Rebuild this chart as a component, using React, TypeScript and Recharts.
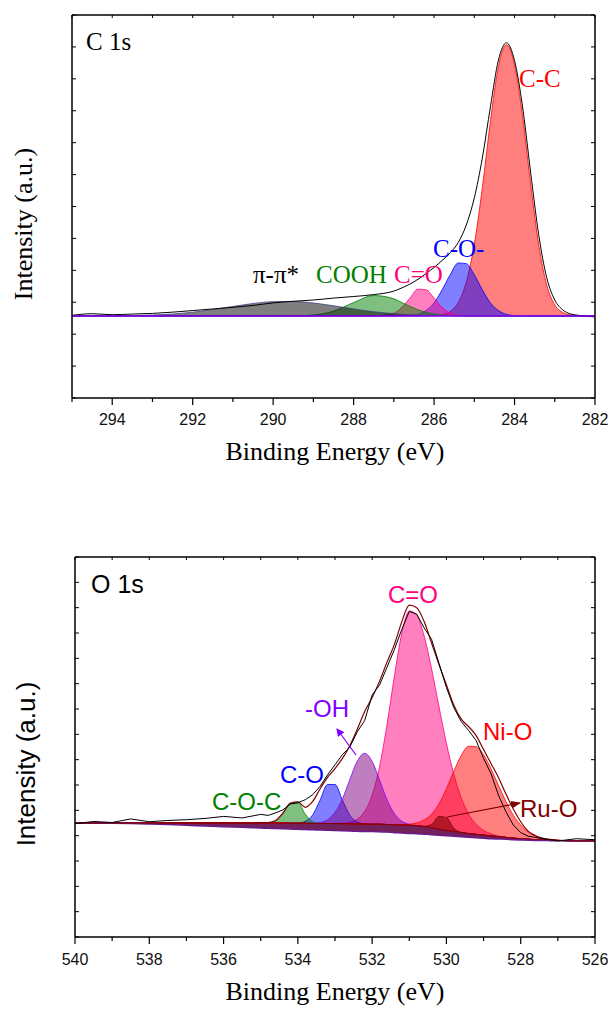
import React from "react";
import { ComposedChart, Area, Line, XAxis, YAxis, ReferenceLine } from "recharts";

const SANS = "'Liberation Sans', Arial, sans-serif";
const SERIF = "'Liberation Serif', 'Times New Roman', serif";

// ---- C 1s (heights above the flat background) ----
const c1sEnergy = [295, 294.5, 294, 293.5, 293, 292.5, 292, 291.5, 291, 290.5, 290, 289.5, 289, 288.5, 288, 287.5,
  287, 286.8, 286.6, 286.4, 286.2, 286, 285.8, 285.6, 285.4, 285.2, 285, 284.8, 284.6, 284.4, 284.2, 284, 283.8,
  283.6, 283.4, 283.2, 283, 282.8, 282.6, 282.4, 282.2, 282];
const c1sPiPi = [0, 0, 0.004, 0.012, 0.029, 0.062, 0.119, 0.201, 0.299, 0.39, 0.449, 0.455, 0.406, 0.319, 0.22, 0.134,
  0.072, 0.054, 0.04, 0.029, 0.02, 0.014, 0.01, 0.006, 0.004, 0.002, 0.001, 0, 0, 0, 0, 0, 0, 0, 0, 0, 0, 0, 0, 0, 0, 0];
const c1sCOOH = [0, 0, 0, 0, 0, 0, 0, 0, 0, 0, 0, 0.003, 0.03, 0.15, 0.42, 0.64,
  0.54, 0.42, 0.3, 0.195, 0.115, 0.061, 0.03, 0.013, 0.005, 0.002, 0, 0, 0, 0, 0, 0, 0, 0, 0, 0, 0, 0, 0, 0, 0, 0];
const c1sCdO = [0, 0, 0, 0, 0, 0, 0, 0, 0, 0, 0, 0, 0, 0, 0, 0.001,
  0.09, 0.27, 0.56, 0.84, 0.82, 0.56, 0.27, 0.09, 0.02, 0.003, 0, 0, 0, 0, 0, 0, 0, 0, 0, 0, 0, 0, 0, 0, 0, 0];
const c1sCO = [0, 0, 0, 0, 0, 0, 0, 0, 0, 0, 0, 0, 0, 0, 0, 0,
  0, 0.003, 0.013, 0.05, 0.17, 0.41, 0.82, 1.29, 1.66, 1.64, 1.29, 0.82, 0.41, 0.17, 0.05, 0.013, 0.003,
  0, 0, 0, 0, 0, 0, 0, 0, 0];
const c1sCC = [0, 0, 0, 0, 0, 0, 0, 0, 0, 0, 0, 0, 0, 0, 0, 0,
  0, 0, 0, 0, 0, 0.01, 0.04, 0.14, 0.42, 1.06, 2.24, 4.02, 6.09, 7.82, 8.5, 7.87, 6.25,
  4.14, 2.24, 0.97, 0.35, 0.11, 0.03, 0.01, 0, 0];
const c1sRaw = [0.02, 0.07, 0.04, 0.06, 0.08, 0.12, 0.17, 0.22, 0.27, 0.33, 0.41, 0.46, 0.5, 0.56, 0.61, 0.67,
  0.78, 0.88, 1.0, 1.15, 1.33, 1.52, 1.74, 1.98, 2.3, 2.85, 3.7, 4.95, 6.55, 8.02, 8.56, 8.0, 6.55,
  4.5, 2.55, 1.2, 0.5, 0.19, 0.06, 0.02, -0.01, -0.03];

const c1sXTicks = [295, 294, 293, 292, 291, 290, 289, 288, 287, 286, 285, 284, 283, 282];
const c1sYTicks = [-2.57, -1.57, -0.57, 0.43, 1.43, 2.43, 3.43, 4.43, 5.43, 6.43, 7.43, 8.43, 9.43];

// ---- O 1s ----
const o1sEnergy = [540, 539.5, 539, 538.5, 538, 537.5, 537, 536.5, 536, 535.5,
  535, 534.8, 534.6, 534.4, 534.2, 534, 533.8, 533.6, 533.4, 533.2,
  533, 532.8, 532.6, 532.4, 532.2, 532, 531.8, 531.6, 531.4, 531.2,
  531, 530.8, 530.6, 530.4, 530.2, 530, 529.8, 529.6, 529.4, 529.2,
  529, 528.8, 528.6, 528.4, 528.2, 528, 527.8, 527.6, 527.4, 527.2,
  527, 526.5, 526];
const o1sBackground = [4.5, 4.5, 4.49, 4.48, 4.46, 4.44, 4.41, 4.38, 4.35, 4.33,
  4.3, 4.29, 4.28, 4.27, 4.26, 4.25, 4.24, 4.23, 4.22, 4.21,
  4.2, 4.19, 4.18, 4.17, 4.16, 4.16, 4.15, 4.14, 4.12, 4.11,
  4.09, 4.08, 4.06, 4.04, 4.02, 4.0, 3.98, 3.96, 3.94, 3.92,
  3.9, 3.88, 3.87, 3.86, 3.84, 3.83, 3.82, 3.81, 3.81, 3.8,
  3.8, 3.8, 3.8];
const o1sBase = [4.5, 4.5, 4.5, 4.5, 4.5, 4.5, 4.5, 4.5, 4.5, 4.5,
  4.5, 4.5, 4.5, 4.5, 4.49, 4.49, 4.49, 4.48, 4.48, 4.48,
  4.48, 4.47, 4.47, 4.46, 4.46, 4.45, 4.45, 4.44, 4.43, 4.42,
  4.41, 4.39, 4.36, 4.31, 4.25, 4.2, 4.16, 4.12, 4.08, 4.05,
  4.02, 3.99, 3.96, 3.93, 3.9, 3.88, 3.86, 3.84, 3.83, 3.82,
  3.81, 3.8, 3.8];
const o1sCOC = [0, 0, 0, 0, 0, 0, 0, 0, 0, 0,
  0, 0.01, 0.07, 0.36, 0.8, 0.8, 0.36, 0.07, 0.01, 0,
  0, 0, 0, 0, 0, 0, 0, 0, 0, 0,
  0, 0, 0, 0, 0, 0, 0, 0, 0, 0,
  0, 0, 0, 0, 0, 0, 0, 0, 0, 0,
  0, 0, 0];
const o1sCO = [0, 0, 0, 0, 0, 0, 0, 0, 0, 0,
  0, 0, 0, 0, 0, 0.01, 0.08, 0.34, 0.93, 1.54,
  1.54, 0.93, 0.34, 0.08, 0.01, 0, 0, 0, 0, 0,
  0, 0, 0, 0, 0, 0, 0, 0, 0, 0,
  0, 0, 0, 0, 0, 0, 0, 0, 0, 0,
  0, 0, 0];
const o1sOH = [0, 0, 0, 0, 0, 0, 0, 0, 0, 0,
  0, 0, 0, 0, 0, 0, 0, 0.01, 0.04, 0.15,
  0.44, 0.98, 1.75, 2.48, 2.79, 2.48, 1.75, 0.98, 0.44, 0.15,
  0.04, 0.01, 0, 0, 0, 0, 0, 0, 0, 0,
  0, 0, 0, 0, 0, 0, 0, 0, 0, 0,
  0, 0, 0];
const o1sCdO = [0, 0, 0, 0, 0, 0, 0, 0, 0, 0,
  0, 0, 0, 0, 0, 0, 0, 0, 0, 0,
  0, 0.02, 0.06, 0.19, 0.5, 1.15, 2.28, 3.94, 5.88, 7.58,
  8.46, 8.31, 7.52, 6.28, 4.84, 3.45, 2.26, 1.37, 0.77, 0.4,
  0.19, 0.08, 0.03, 0.01, 0, 0, 0, 0, 0, 0,
  0, 0, 0];
const o1sNiO = [0, 0, 0, 0, 0, 0, 0, 0, 0, 0,
  0, 0, 0, 0, 0, 0, 0, 0, 0, 0,
  0, 0, 0, 0, 0, 0, 0, 0, 0, 0.01,
  0.04, 0.11, 0.26, 0.54, 1.01, 1.65, 2.38, 3.05, 3.45, 3.46,
  3.17, 2.65, 2.03, 1.42, 0.91, 0.54, 0.29, 0.14, 0.06, 0.03,
  0.01, 0, 0];
const o1sRuO = [0, 0, 0, 0, 0, 0, 0, 0, 0, 0,
  0, 0, 0, 0, 0, 0, 0, 0, 0, 0,
  0, 0, 0, 0, 0, 0, 0, 0, 0, 0,
  0, 0, 0.01, 0.13, 0.51, 0.51, 0.13, 0.01, 0, 0,
  0, 0, 0, 0, 0, 0, 0, 0, 0, 0,
  0, 0, 0];
const o1sEnvelope = [4.5, 4.5, 4.5, 4.5, 4.5, 4.5, 4.5, 4.5, 4.5, 4.5,
  4.5, 4.52, 4.6, 4.9, 5.28, 5.33, 5.12, 5.35, 5.85, 6.3,
  6.65, 7.05, 7.55, 8.2, 8.9, 9.45, 10.1, 10.85, 11.55, 12.45,
  13.1, 13.0, 12.45, 11.6, 10.75, 9.95, 9.15, 8.6, 8.3, 7.95,
  7.4, 6.85, 6.3, 5.65, 5.05, 4.55, 4.18, 4.0, 3.89, 3.85,
  3.82, 3.8, 3.8];
const o1sRaw = [4.47, 4.56, 4.52, 4.66, 4.55, 4.6, 4.63, 4.68, 4.76, 4.7,
  4.84, 4.8, 4.9, 5.02, 5.25, 5.3, 5.42, 5.62, 5.95, 6.4,
  6.8, 7.2, 7.5, 8.1, 8.55, 9.55, 9.95, 10.65, 11.35, 12.15,
  12.85, 12.75, 12.2, 11.75, 10.8, 9.85, 9.05, 8.5, 8.15, 7.75,
  7.05, 6.45, 5.6, 4.95, 4.42, 4.12, 3.98, 3.93, 3.88, 3.84,
  3.79, 3.88, 3.84];

const o1sXTicks = [540, 539, 538, 537, 536, 535, 534, 533, 532, 531, 530, 529, 528, 527, 526];
const o1sYTicks = [0, 1, 2, 3, 4, 5, 6, 7, 8, 9, 10, 11, 12, 13, 14, 15];

const c1sData = c1sEnergy.map((e, i) => ({
  e,
  pi: c1sPiPi[i],
  cooh: c1sCOOH[i],
  cdo: c1sCdO[i],
  co: c1sCO[i],
  cc: c1sCC[i],
  raw: c1sRaw[i],
}));

const o1sData = o1sEnergy.map((e, i) => {
  const b = o1sBase[i];
  return {
    e,
    bg: o1sBackground[i],
    wedge: [o1sBackground[i], b],
    coc: [b, b + o1sCOC[i]],
    co: [b, b + o1sCO[i]],
    oh: [b, b + o1sOH[i]],
    cdo: [b, b + o1sCdO[i]],
    nio: [b, b + o1sNiO[i]],
    ruo: [b, b + o1sRuO[i]],
    env: o1sEnvelope[i],
    raw: o1sRaw[i],
  };
});

const axisLine = { stroke: "#000", strokeWidth: 1.5 };

function bottomTick(labelDy: number) {
  return (props: any) => {
    const { x, y, payload } = props;
    const major = payload.value % 2 === 0;
    return (
      <g>
        <line x1={x} y1={y} x2={x} y2={y + (major ? 7 : 4)} stroke="#000" strokeWidth={1.2} />
        {major && (
          <text x={x} y={y + labelDy} textAnchor="middle" fontFamily={SANS} fontSize={16} fill="#111">
            {payload.value}
          </text>
        )}
      </g>
    );
  };
}

const topTick = (props: any) => (
  <line x1={props.x} y1={props.y} x2={props.x} y2={props.y + 3} stroke="#000" strokeWidth={1} />
);
const leftTick = (props: any) => (
  <line x1={props.x} y1={props.y} x2={props.x + 4} y2={props.y} stroke="#000" strokeWidth={1} />
);
const rightTick = (props: any) => (
  <line x1={props.x} y1={props.y} x2={props.x - 4} y2={props.y} stroke="#000" strokeWidth={1} />
);

// axes need a size of at least 1px or recharts skips drawing them
function Frame({ domainX, xTicks, domainY, yTicks, labelDy }: any) {
  return [
    <XAxis key="xb" dataKey="e" type="number" domain={domainX} reversed allowDataOverflow ticks={xTicks}
      interval={0} height={1} tickSize={0} tickMargin={0} tickLine={false} axisLine={axisLine}
      tick={bottomTick(labelDy)} />,
    <XAxis key="xt" xAxisId="top" orientation="top" dataKey="e" type="number" domain={domainX} reversed
      allowDataOverflow ticks={xTicks} interval={0} height={1} tickSize={0} tickMargin={0} tickLine={false}
      axisLine={axisLine} tick={topTick} />,
    <YAxis key="yl" type="number" domain={domainY} allowDataOverflow ticks={yTicks} interval={0} width={1}
      tickSize={0} tickMargin={0} tickLine={false} axisLine={axisLine} tick={leftTick} />,
    <YAxis key="yr" yAxisId="right" orientation="right" type="number" domain={domainY} allowDataOverflow
      ticks={yTicks} interval={0} width={1} tickSize={0} tickMargin={0} tickLine={false} axisLine={axisLine}
      tick={rightTick} />,
  ];
}

function C1sChart() {
  return (
    <ComposedChart width={611} height={480} data={c1sData} margin={{ top: 14, right: 15, bottom: 81, left: 71 }}>
      {Frame({ domainX: [282, 295], xTicks: c1sXTicks, domainY: [-2.57, 9.43], yTicks: c1sYTicks, labelDy: 27 })}
      <Area dataKey="cc" type="monotone" baseValue={0} fill="#ff0000" fillOpacity={0.5} stroke="#ff0000"
        strokeWidth={0.8} isAnimationActive={false} />
      <Area dataKey="co" type="monotone" baseValue={0} fill="#0000ff" fillOpacity={0.5} stroke="#0000ff"
        strokeWidth={0.8} isAnimationActive={false} />
      <Area dataKey="cdo" type="monotone" baseValue={0} fill="#ff0080" fillOpacity={0.5} stroke="#ff0080"
        strokeWidth={0.8} isAnimationActive={false} />
      <Area dataKey="cooh" type="monotone" baseValue={0} fill="#008000" fillOpacity={0.5} stroke="#008000"
        strokeWidth={0.8} isAnimationActive={false} />
      <Area dataKey="pi" type="monotone" baseValue={0} fill="#000000" fillOpacity={0.5} stroke="#404080"
        strokeWidth={0.8} isAnimationActive={false} />
      <Line dataKey="raw" type="monotone" stroke="#000" strokeWidth={1} dot={false} isAnimationActive={false} />
      <ReferenceLine y={0} stroke="#8000ff" strokeWidth={1.6} />
    </ComposedChart>
  );
}

function O1sChart() {
  return (
    <ComposedChart width={611} height={470} data={o1sData} margin={{ top: 16, right: 15, bottom: 72, left: 74 }}>
      {Frame({ domainX: [526, 540], xTicks: o1sXTicks, domainY: [0, 15], yTicks: o1sYTicks, labelDy: 28 })}
      <Area dataKey="wedge" type="monotone" fill="#6b1552" fillOpacity={0.95} stroke="none" isAnimationActive={false} />
      <Area dataKey="cdo" type="monotone" fill="#ff0080" fillOpacity={0.5} stroke="#ff0080" strokeWidth={0.8}
        isAnimationActive={false} />
      <Area dataKey="co" type="monotone" fill="#0000ff" fillOpacity={0.5} stroke="#0000ff" strokeWidth={0.8}
        isAnimationActive={false} />
      <Area dataKey="coc" type="monotone" fill="#008000" fillOpacity={0.5} stroke="#008000" strokeWidth={0.8}
        isAnimationActive={false} />
      <Area dataKey="oh" type="monotone" fill="#800080" fillOpacity={0.5} stroke="#8000ff" strokeWidth={0.8}
        isAnimationActive={false} />
      <Area dataKey="nio" type="monotone" fill="#ff0000" fillOpacity={0.5} stroke="#ff0000" strokeWidth={0.8}
        isAnimationActive={false} />
      <Area dataKey="ruo" type="monotone" fill="#800000" fillOpacity={0.6} stroke="#800000" strokeWidth={0.8}
        isAnimationActive={false} />
      <Line dataKey="bg" type="monotone" stroke="#6a1a8a" strokeWidth={1.5} dot={false} isAnimationActive={false} />
      <Line dataKey="env" type="monotone" stroke="#800000" strokeWidth={1.2} dot={false} isAnimationActive={false} />
      <Line dataKey="raw" type="linear" stroke="#000" strokeWidth={1} dot={false} isAnimationActive={false} />
    </ComposedChart>
  );
}

export default function App() {
  return (
    <div style={{ position: "absolute", left: 0, top: 0, width: 611, height: 1010, background: "#fff" }}>
      <div style={{ position: "absolute", left: 0, top: 0 }}>
        <C1sChart />
      </div>
      <div style={{ position: "absolute", left: 0, top: 540 }}>
        <O1sChart />
      </div>
      <svg width={611} height={1010} style={{ position: "absolute", left: 0, top: 0, pointerEvents: "none" }}>
        <defs>
          <marker id="headV" markerWidth="8" markerHeight="8" refX="7" refY="4" orient="auto" markerUnits="userSpaceOnUse">
            <path d="M0,0 L8,4 L0,8 Z" fill="#8000ff" />
          </marker>
          <marker id="headR" markerWidth="10" markerHeight="8" refX="9" refY="4" orient="auto" markerUnits="userSpaceOnUse">
            <path d="M0,0 L10,4 L0,8 Z" fill="#800000" />
          </marker>
        </defs>
        {/* C 1s texts */}
        <g fontFamily={SERIF} fontSize={25}>
          <text x={86} y={50} fill="#000">C 1s</text>
          <text x={519} y={87} fill="#ff0000">C-C</text>
          <text x={433} y={257} fill="#0000ff">C-O-</text>
          <text x={394} y={283} fill="#ff0080">C=O</text>
          <text x={316} y={283} fill="#008000">COOH</text>
          <text x={253} y={283} fill="#000">π-π*</text>
        </g>
        <text x={335} y={460} textAnchor="middle" fontFamily={SERIF} fontSize={26} fill="#000">Binding Energy (eV)</text>
        <text x={32} y={224} textAnchor="middle" fontFamily={SERIF} fontSize={26} fill="#000"
          transform="rotate(-90 32 224)">Intensity (a.u.)</text>

        {/* O 1s texts */}
        <g fontFamily={SANS} fontSize={24}>
          <text x={91} y={593} fontSize={25} fill="#000">O 1s</text>
          <text x={388} y={603} fill="#ff0080">C=O</text>
          <text x={305} y={717} fill="#8000ff">-OH</text>
          <text x={280} y={783} fill="#0000ff">C-O</text>
          <text x={212} y={810} fill="#008000">C-O-C</text>
          <text x={483} y={740} fill="#ff0000">Ni-O</text>
          <text x={520} y={817} fill="#800000">Ru-O</text>
        </g>
        <line x1={356} y1={755} x2={337} y2={729} stroke="#8000ff" strokeWidth={1.2} markerEnd="url(#headV)" />
        <line x1={447} y1={817} x2={520} y2={803} stroke="#800000" strokeWidth={1.2} markerEnd="url(#headR)" />
        <text x={335} y={1000} textAnchor="middle" fontFamily={SERIF} fontSize={26} fill="#000">Binding Energy (eV)</text>
        <text x={35} y={764} textAnchor="middle" fontFamily={SANS} fontSize={26} fill="#000"
          transform="rotate(-90 35 764)">Intensity (a.u.)</text>
      </svg>
    </div>
  );
}
